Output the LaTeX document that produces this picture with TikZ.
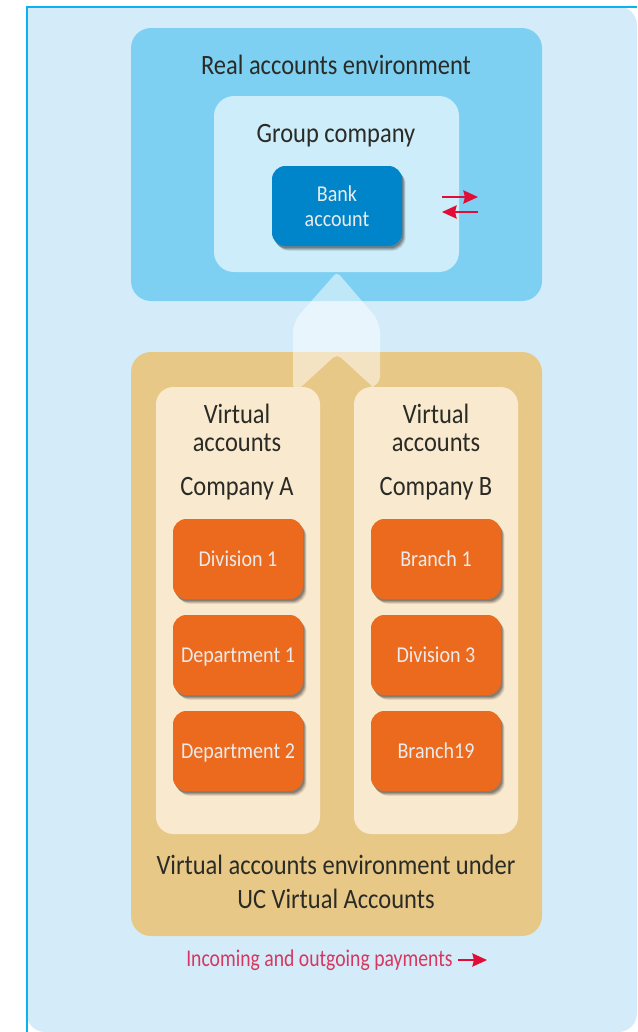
\documentclass[tikz,border=0pt]{standalone}
\usepackage{fontspec}
\usepackage{graphicx}
\setmainfont{Carlito}
\usetikzlibrary{shadows,arrows.meta}
\definecolor{panelc}{HTML}{D4ECFA}
\definecolor{edgec}{HTML}{0CB1F2}
\definecolor{realc}{HTML}{7DD0F2}
\definecolor{groupc}{HTML}{CDEDFA}
\definecolor{bankc}{HTML}{0085CA}
\definecolor{tanc}{HTML}{E7C887}
\definecolor{cardc}{HTML}{F9E9CF}
\definecolor{orangec}{HTML}{EC6A1E}
\definecolor{redc}{HTML}{E4062F}
\definecolor{pinkc}{HTML}{D8365F}
\definecolor{inkc}{HTML}{2B2B26}
\newcommand{\cnd}[1]{\scalebox{.875}[1]{#1}}
\newcommand{\tcnd}[1]{\scalebox{.885}[1]{#1}}
\tikzset{
  x=0.75pt,y=-0.75pt,
  region/.style={anchor=north west,inner sep=0pt,outer sep=0pt,rounded corners=15pt},
  card/.style={region,rounded corners=13pt,fill=cardc,minimum width=123pt,minimum height=335.25pt},
  tilebox/.style={anchor=north west,inner sep=0pt,outer sep=0pt,rounded corners=10pt,
    minimum width=97.5pt,minimum height=60pt,align=center,text=white!92!black,font=\fontsize{17}{19}\selectfont,
    general shadow={shadow xshift=2.8pt,shadow yshift=-3.6pt,fill=black,opacity=.08},
    general shadow={shadow xshift=2.2pt,shadow yshift=-3pt,fill=black,opacity=.12},
    general shadow={shadow xshift=1.6pt,shadow yshift=-2.4pt,fill=black,opacity=.16},
    general shadow={shadow xshift=1pt,shadow yshift=-1.6pt,fill=black,opacity=.2}},
  orangebox/.style={tilebox,fill=orangec,text height=13pt,text depth=2.5pt},
  label/.style={inner sep=0pt,align=center,text=inkc,font=\fontsize{21}{21}\selectfont},
  pay/.style={draw=redc!85!pinkc,line width=1pt,-{Stealth[length=11pt,width=10pt,inset=1.2pt]}}
}
\begin{document}
\begin{tikzpicture}
\useasboundingbox (0,0) rectangle (637,1032);
\fill[white] (0,0) rectangle (637,1032);
\fill[panelc] (637,6.5) -- (26.5,6.5) -- (26.5,1012) [rounded corners=14pt] -- (26.5,1032) -- (637,1032) -- cycle;
\draw[edgec,line width=1.5pt] (637,6.5) -- (26.5,6.5) -- (26.5,1032);
\node[region,fill=realc,minimum width=308.25pt,minimum height=204.75pt] (real) at (131,28) {};
\node[region,fill=groupc,minimum width=183.75pt,minimum height=132pt] (group) at (214,96) {};
\node[region,fill=tanc,minimum width=308.25pt,minimum height=438pt] (virt) at (131,352) {};
\node[card] (cardA) at (156,387) {};
\node[card] (cardB) at (354,387) {};
\fill[white,opacity=.5,rounded corners=8pt] (293,387) -- (293,322) [rounded corners=3pt] -- (337,272) [rounded corners=8pt] -- (380,322) -- (380,387) [rounded corners=1pt] -- (373,387) [rounded corners=4pt] -- (337,354) [rounded corners=1pt] -- (301,387) -- cycle;
\node[label] (realT) at (336,65) {\cnd{Real accounts environment}};
\node[label] (groupT) at (336,136) {\cnd{Group company}};
\node[tilebox,fill=bankc] (bank) at (272,166) {\tcnd{Bank}\\\tcnd{account}};
\node[label] (vA) at (237,428) {\cnd{Virtual}\\\cnd{accounts}};
\node[label] (vB) at (436,428) {\cnd{Virtual}\\\cnd{accounts}};
\node[label] (cA) at (237,489) {\cnd{Company A}};
\node[label] (cB) at (436,489) {\cnd{Company B}};
\node[orangebox] (a1) at (173,519) {\tcnd{Division 1}};
\node[orangebox] (a2) at (173,615) {\tcnd{Department 1}};
\node[orangebox] (a3) at (173,711) {\tcnd{Department 2}};
\node[orangebox] (b1) at (371,519) {\tcnd{Branch 1}};
\node[orangebox] (b2) at (371,615) {\tcnd{Division 3}};
\node[orangebox] (b3) at (371,711) {\tcnd{Branch19}};
\node[label,font=\fontsize{21}{25}\selectfont] (envT) at (336,882) {\cnd{Virtual accounts environment under}\\\cnd{UC Virtual Accounts}};
\node[inner sep=0pt,text=pinkc,font=\fontsize{18}{20}\selectfont,anchor=west] (payT) at (186,960) {\scalebox{.82}[1]{Incoming and outgoing payments}};
\coordinate (o1) at (442,197); \coordinate (o2) at (478,197);
\coordinate (i1) at (478,212); \coordinate (i2) at (442,212);
\coordinate (l1) at (458,960); \coordinate (l2) at (487,960);
\draw[pay] (o1) -- (o2);
\draw[pay] (i1) -- (i2);
\draw[pay] (l1) -- (l2);
\end{tikzpicture}
\end{document}
